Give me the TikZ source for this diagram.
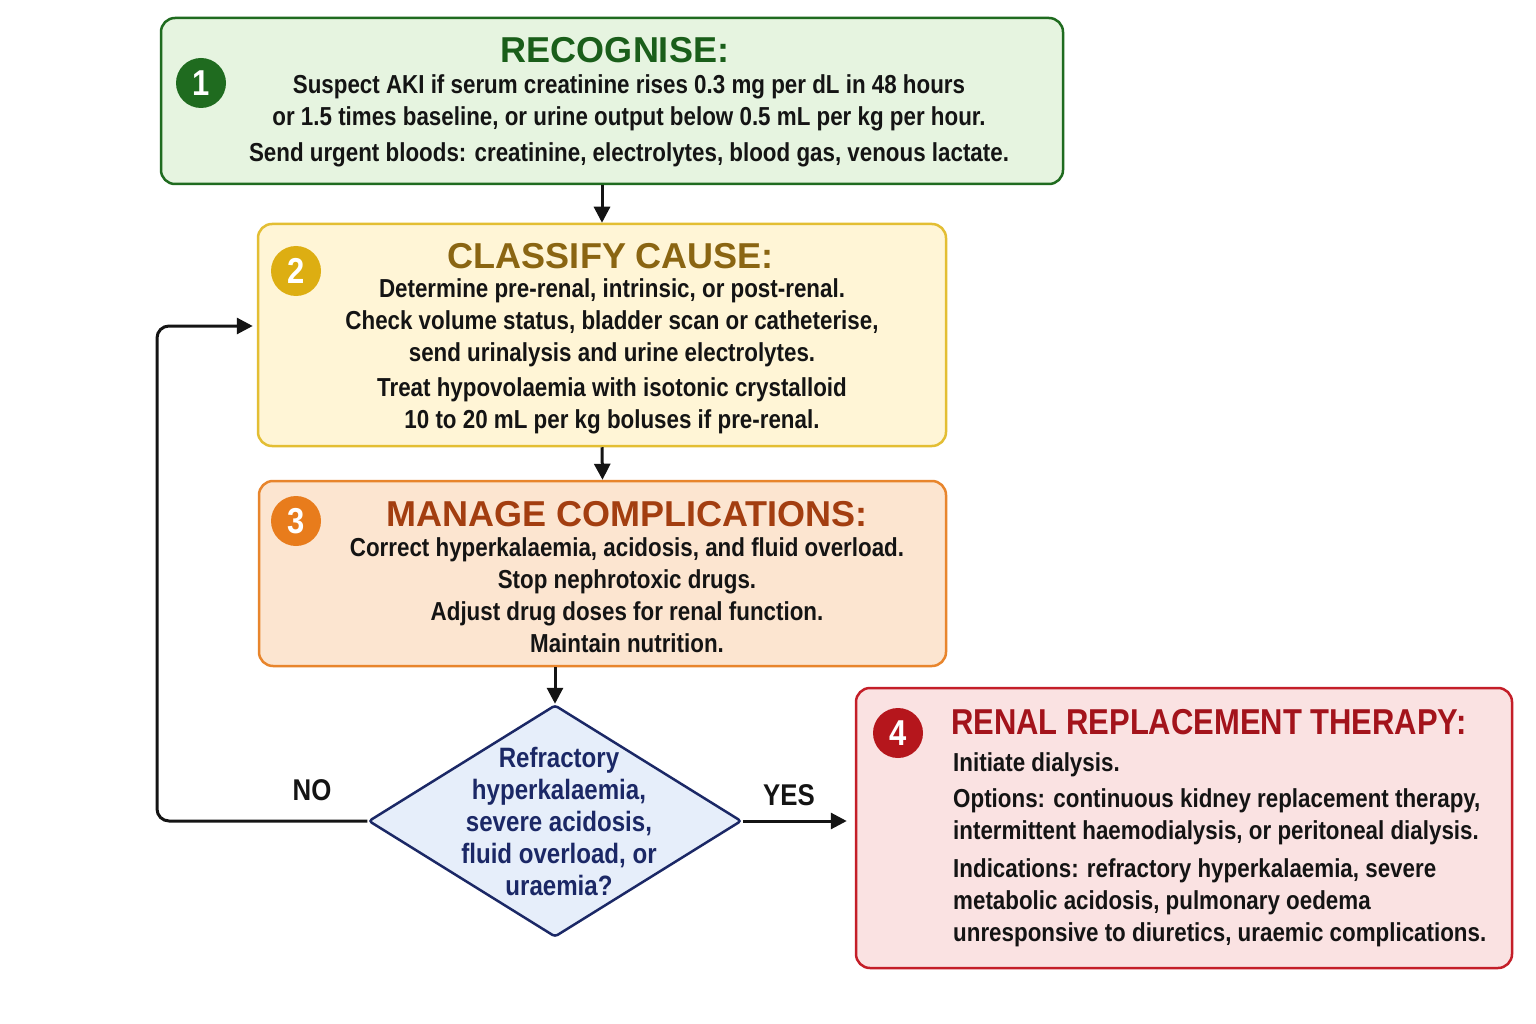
\documentclass[tikz,border=0pt]{standalone}
\usepackage{fontspec}
\setmainfont{Liberation Sans}[FakeStretch=0.86]
\newfontfamily\widefam{Liberation Sans}
\usetikzlibrary{arrows.meta,shapes.geometric}

\definecolor{grnline}{HTML}{1F6B1F}
\definecolor{grnfill}{HTML}{E6F4E0}
\definecolor{grntext}{HTML}{1A5E1A}
\definecolor{yelline}{HTML}{E3BE33}
\definecolor{yelfill}{HTML}{FFF5D6}
\definecolor{yeldot}{HTML}{DDAE12}
\definecolor{yeltext}{HTML}{8A6512}
\definecolor{orgline}{HTML}{E8852C}
\definecolor{orgfill}{HTML}{FCE5D0}
\definecolor{orgdot}{HTML}{E87C1C}
\definecolor{orgtext}{HTML}{A33E10}
\definecolor{redline}{HTML}{C41E28}
\definecolor{redfill}{HTML}{FAE2E2}
\definecolor{reddot}{HTML}{B5161C}
\definecolor{redtext}{HTML}{A3131B}
\definecolor{navyline}{HTML}{1B2866}
\definecolor{navyfill}{HTML}{E6EEFA}
\definecolor{inkblack}{HTML}{141414}

\newcommand\headfont{\widefam\fontsize{36}{40}\selectfont\bfseries}
\newcommand\bodyfont{\fontsize{26}{32}\selectfont\bfseries}
\newcommand\numfont{\fontsize{36}{40}\selectfont\bfseries}

\begin{document}
\begin{tikzpicture}[x=1pt,y=-1pt,
    box/.style={draw, rounded corners=14pt, line width=2.5pt, inner sep=0pt},
    num/.style={circle, minimum size=50pt, inner sep=0pt, text=white, font=\numfont},
    head/.style={font=\headfont, inner sep=0pt},
    body/.style={font=\bodyfont, text=inkblack, align=center, inner sep=0pt},
    arr/.style={line width=3pt, draw=inkblack, -{Triangle[length=16pt,width=16pt]}},
    answer/.style={font=\fontsize{30}{32}\selectfont\bfseries, text=inkblack}]
    \fill[white] (0,0) rectangle (1536,1024);
    \useasboundingbox (0,0) rectangle (1536,1024);

    % the four step boxes
    \node[box, draw=grnline, fill=grnfill, minimum width=902pt, minimum height=166pt] (recog) at (612,101) {};
    \node[box, draw=yelline, fill=yelfill, minimum width=688pt, minimum height=222pt] (classify) at (602,335) {};
    \node[box, draw=orgline, fill=orgfill, minimum width=687pt, minimum height=185pt] (manage) at (602.5,573.5) {};
    \node[box, draw=redline, fill=redfill, minimum width=656pt, minimum height=280pt] (rrt) at (1184,828) {};

    % the question
    \node[diamond, draw=navyline, fill=navyfill, line width=2.5pt, rounded corners=3pt,
          minimum width=373pt, minimum height=232pt, inner sep=0pt] (dec) at (555,821) {};

    % step numbers
    \node[num, fill=grnline] (n1) at (201,83) {1};
    \node[num, fill=yeldot] (n2) at (296,271) {2};
    \node[num, fill=orgdot] (n3) at (296,521) {3};
    \node[num, fill=reddot] (n4) at (898,733) {4};

    % titles
    \node[head, text=grntext] (t1) at (615,50) {RECOGNISE:};
    \node[head, text=yeltext] (t2) at (611,256) {CLASSIFY CAUSE:};
    \node[head, text=orgtext] (t3) at (627,514) {MANAGE COMPLICATIONS:};
    \node[head, font=\fontsize{36}{40}\selectfont\bfseries, text=redtext, anchor=west] (t4) at (951,722) {RENAL REPLACEMENT THERAPY:};

    % texts
    \node[body] (b1) at (629,121) {Suspect AKI if serum creatinine rises 0.3 mg per dL in 48 hours\\
        or 1.5 times baseline, or urine output below 0.5 mL per kg per hour.\\[4pt]
        Send urgent bloods: creatinine, electrolytes, blood gas, venous lactate.};
    \node[body] (b2) at (612,356) {Determine pre-renal, intrinsic, or post-renal.\\
        Check volume status, bladder scan or catheterise,\\
        send urinalysis and urine electrolytes.\\[3pt]
        Treat hypovolaemia with isotonic crystalloid\\
        10 to 20 mL per kg boluses if pre-renal.};
    \node[body] (b3) at (627,595) {Correct hyperkalaemia, acidosis, and fluid overload.\\
        Stop nephrotoxic drugs.\\
        Adjust drug doses for renal function.\\
        Maintain nutrition.};
    \node[body, font=\fontsize{28}{32}\selectfont\bfseries, text=navyline] (q) at (559,821) {Refractory\\ hyperkalaemia,\\ severe acidosis,\\
        fluid overload, or\\ uraemia?};
    \node[body, align=left, anchor=west] (b4) at (953,850) {Initiate dialysis.\\[4pt]
        Options: continuous kidney replacement therapy,\\
        intermittent haemodialysis, or peritoneal dialysis.\\[6pt]
        Indications: refractory hyperkalaemia, severe\\
        metabolic acidosis, pulmonary oedema\\
        unresponsive to diuretics, uraemic complications.};

    % connectors
    \draw[arr] (recog.south -| classify.north) -- (classify.north);
    \draw[arr] (classify.south) -- (manage.north);
    \draw[arr] (manage.south -| dec.north) -- (dec.north);
    \coordinate (back) at (157,326);
    \draw[arr, rounded corners=12pt] (dec.west) -| (back) -- ([xshift=-4pt]back -| classify.west);
    \draw[arr] (dec.east) -- ([xshift=-8pt]dec.east -| rrt.west);
    \node[answer] (no) at (312,790) {NO};
    \node[answer] (yes) at (789,795) {YES};
\end{tikzpicture}
\end{document}
